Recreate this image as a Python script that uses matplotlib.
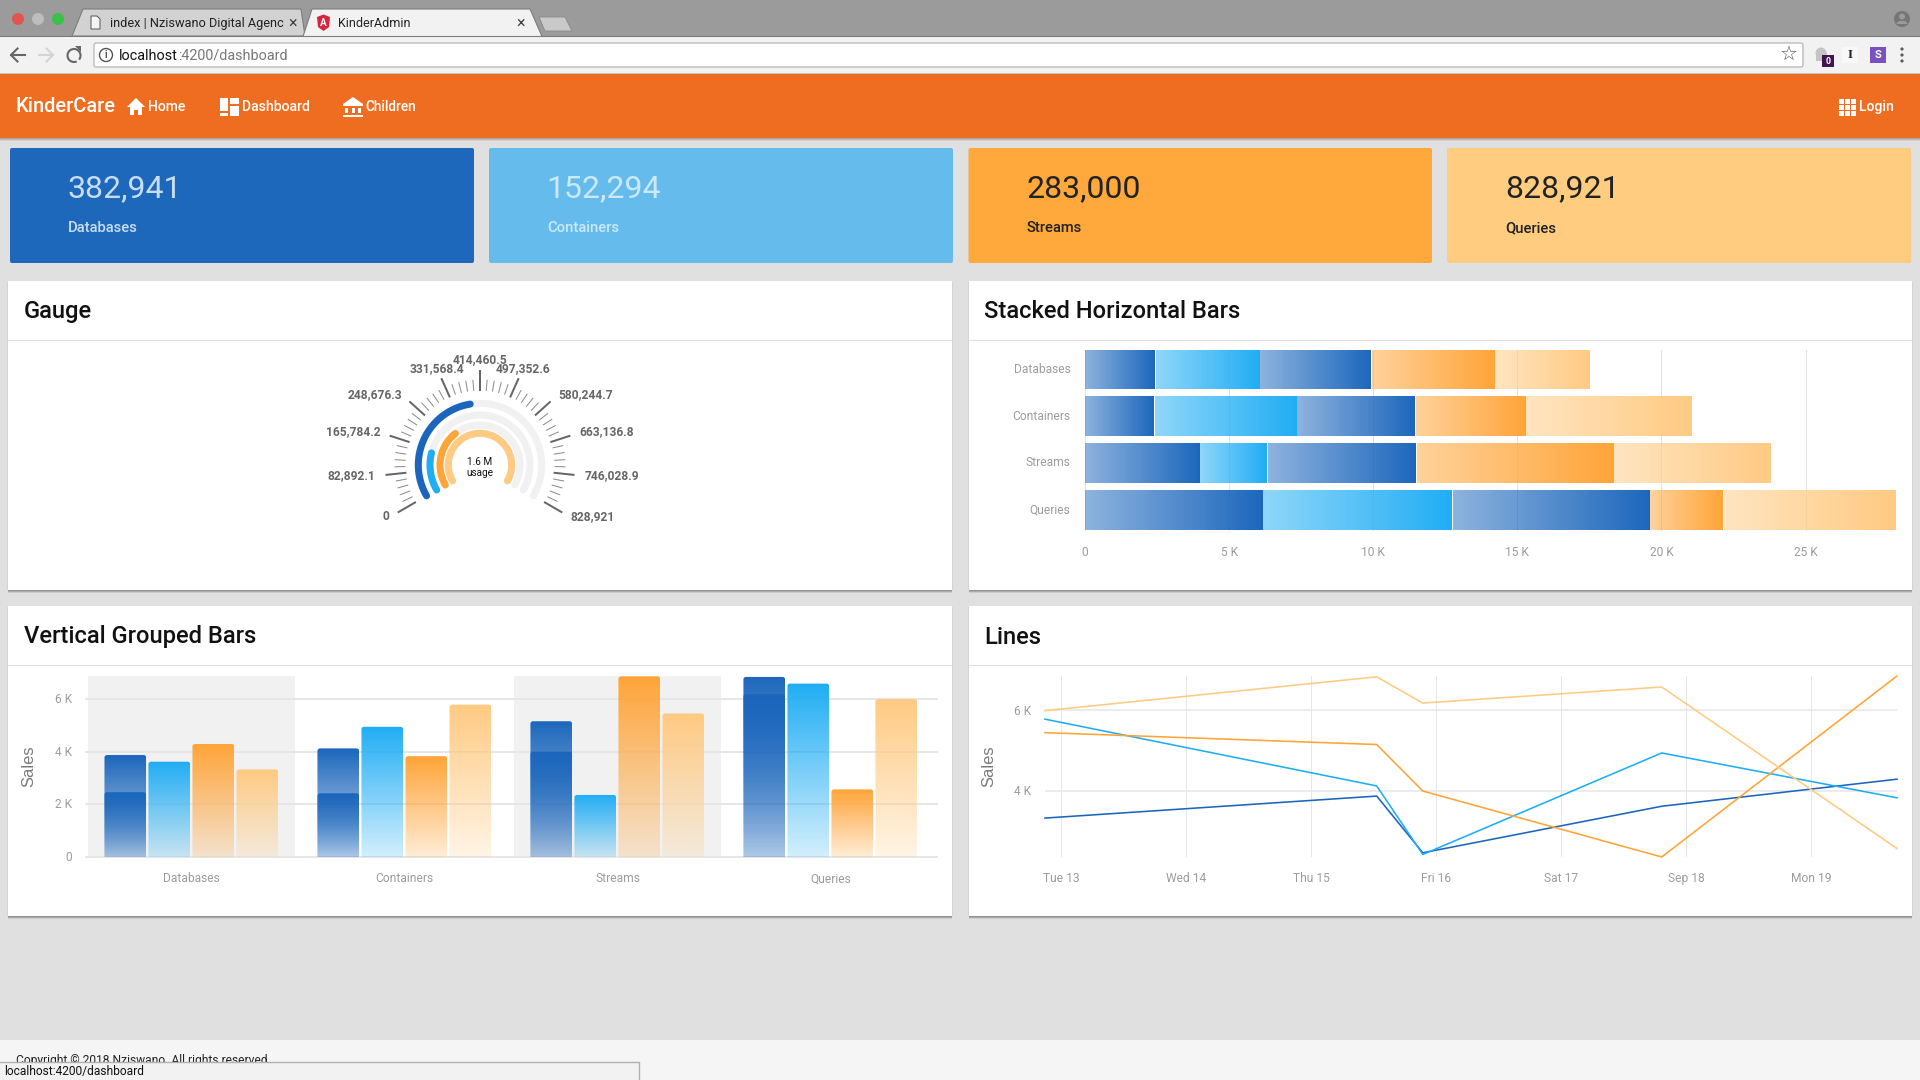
import numpy as np
import matplotlib
matplotlib.use('Agg')
import matplotlib.pyplot as plt
from matplotlib.colors import to_rgb
from matplotlib.patches import Rectangle, Polygon, Circle, FancyBboxPatch
from matplotlib.transforms import ScaledTranslation

plt.rcParams['font.family'] = ['Roboto', 'DejaVu Sans']

# Data
categories = ['Databases', 'Containers', 'Streams', 'Queries']
card_values = ['382,941', '152,294', '283,000', '828,921']
series_a = [2460, 2418, 3996, 6183]
series_b = [3617, 4942, 2355, 6582]
series_c = [3870, 4122, 5152, 6835]
series_d = [4290, 3827, 6856, 2566]
series_e = [3323, 5783, 5447, 5994]
gauge_values = [382941, 152294, 283000, 828921]
gauge_max = 828921
gauge_labels = ['0', '82,892.1', '165,784.2', '248,676.3', '331,568.4', '414,460.5',
                '497,352.6', '580,244.7', '663,136.8', '746,028.9', '828,921']
line_days = [-0.132, 2.524, 2.893, 4.806, 6.69]
day_ticks = [0, 1, 2, 3, 4, 5, 6]
day_labels = ['Tue 13', 'Wed 14', 'Thu 15', 'Fri 16', 'Sat 17', 'Sep 18', 'Mon 19']

BLUE = '#1b66bc'
SKY = '#1fadf4'
ORANGE = '#ffa437'
PEACH = '#ffca82'
TICK = '#9c9c9c'
PX = 0.72  # px to pt at dpi 100

fig = plt.figure(figsize=(19.2, 10.8), dpi=100, facecolor='#e0e0e0')
page = fig.add_axes([0, 0, 1, 1])
page.set_xlim(0, 1920)
page.set_ylim(1080, 0)
page.axis('off')


def rect(x0, y0, x1, y1, color, z=1, **kw):
    page.add_patch(Rectangle((x0, y0), x1 - x0, y1 - y0, facecolor=color, edgecolor='none', zorder=z, **kw))


def label(x, y, s, size, color='#000000', ha='left', weight='normal', z=5, **kw):
    return page.text(x, y, s, fontsize=size * PX, color=color, ha=ha, va='center', fontweight=weight, zorder=z, **kw)


def panel(x0, y0, x1, y1):
    ax = fig.add_axes([x0 / 1920, 1 - y1 / 1080, (x1 - x0) / 1920, (y1 - y0) / 1080])
    ax.patch.set_alpha(0)
    for s in ax.spines.values():
        s.set_visible(False)
    ax.set_autoscale_on(False)
    ax.tick_params(length=0, labelcolor=TICK, labelsize=12 * PX)
    return ax


def nudge_up(tick_labels, px):
    # tick labels sit a little high in the browser render
    for t in tick_labels:
        t.set_transform(t.get_transform() + ScaledTranslation(0, px / 100, fig.dpi_scale_trans))


def grad_bar(ax, x0, x1, y0, y1, color, vertical, low, clip=None):
    n = 128
    rgb = to_rgb(color)
    alpha = np.linspace(low, 1, n)
    if vertical:
        img = np.zeros((n, 1, 4))
        img[:, 0, :3] = rgb
        img[:, 0, 3] = alpha
    else:
        img = np.zeros((1, n, 4))
        img[0, :, :3] = rgb
        img[0, :, 3] = alpha
    im = ax.imshow(img, extent=(x0, x1, y0, y1), origin='lower', aspect='auto', interpolation='nearest', zorder=3)
    if clip is not None:
        ax.add_patch(clip)
        im.set_clip_path(clip)
    return im


# Browser chrome
rect(0, 0, 1920, 36, '#9b9b9b')
rect(0, 36, 1920, 73, '#f2f2f2')
rect(0, 35.5, 1920, 36.5, '#777777', z=2)
rect(0, 73, 1920, 74, '#c4c4c4')
for x, c in zip([18, 38, 58], ['#e2554f', '#bdbdbd', '#3ac14a']):
    page.add_patch(Circle((x, 19), 6, facecolor=c, edgecolor='none', zorder=3))
page.add_patch(Polygon([[72, 36], [83, 9], [301, 9], [305, 36]], facecolor='#d2d2d2', edgecolor='#7d7d7d', lw=0.8, zorder=3))
page.add_patch(Polygon([[303, 36.5], [312, 9], [530, 9], [542, 36.5]], facecolor='#f2f2f2', edgecolor='#7d7d7d', lw=0.8, zorder=4))
page.add_patch(Polygon([[539, 17], [565, 17], [572, 31], [545, 31]], facecolor='#c9c9c9', edgecolor='#8a8a8a', lw=0.6, zorder=3))
page.add_patch(Polygon([[91, 16], [97, 16], [100, 19], [100, 29], [91, 29]], facecolor='#f5f5f5', edgecolor='#555555', lw=0.7, zorder=5))
label(110, 23.5, 'index | Nziswano Digital Agenc', 12.7, '#222222')
label(293, 23, '×', 16, '#444444', ha='center')
page.add_patch(Polygon([[317, 17], [323.5, 14.5], [330, 17], [329, 27], [323.5, 31], [318, 27]], facecolor='#d9233a', edgecolor='none', zorder=5))
label(323.5, 23, 'A', 10, 'white', ha='center', weight='bold', z=6)
label(338, 23.5, 'KinderAdmin', 12.5, '#222222')
label(520.5, 23, '×', 16, '#444444', ha='center')
page.add_patch(FancyBboxPatch((94, 43), 1709, 24, boxstyle='round,pad=0,rounding_size=2', facecolor='white', edgecolor='#bcbcbc', lw=1, zorder=3))
# back, forward, reload
for x0, x1, c in [(25, 11, '#666666'), (39, 53, '#d4d4d4')]:
    d = 6.5 if x1 > x0 else -6.5
    page.plot([x0, x1], [55, 55], color=c, lw=1.5, zorder=5)
    page.plot([x1 - d, x1, x1 - d], [48.5, 55, 61.5], color=c, lw=1.5, zorder=5)
th = np.radians(np.linspace(-30, 285, 60))
page.plot(74 + 6.5 * np.cos(th), 55.5 - 6.5 * np.sin(th), color='#666666', lw=1.5, zorder=5)
page.add_patch(Polygon([[75, 46], [81, 46], [81, 52]], facecolor='#666666', edgecolor='none', zorder=5))
page.add_patch(Circle((106, 55), 6.5, facecolor='white', edgecolor='#555555', lw=1, zorder=5))
label(106, 55.5, 'i', 10, '#555555', ha='center', weight='bold', z=6)
label(119, 56, 'localhost', 14.4, '#111111')
label(178.5, 56, ':4200/dashboard', 14.4, '#777777')
label(1789, 54.5, '☆', 20, '#555555', ha='center', family=['DejaVu Sans'])
page.add_patch(Circle((1821, 53), 5.5, facecolor='#c4c4c4', edgecolor='none', zorder=5))
rect(1815.5, 53, 1826.5, 61, '#c4c4c4', z=5)
rect(1822, 55, 1834, 67, '#43124f', z=6)
label(1828, 61.5, '0', 9, 'white', ha='center', weight='bold', z=7)
rect(1842, 47, 1858, 63, '#f8f8f8', z=5)
label(1850, 55, 'I', 13, '#222222', ha='center', weight='bold', z=6, family=['Liberation Serif'])
rect(1870, 47, 1886, 63, '#7a52c0', z=5)
label(1878, 55, 'S', 11, 'white', ha='center', weight='bold', z=6)
for y in [49, 55, 61]:
    page.add_patch(Circle((1902, y), 1.6, facecolor='#5a5a5a', edgecolor='none', zorder=5))
page.add_patch(Circle((1902, 19), 8, facecolor='#767676', edgecolor='none', zorder=3))
page.add_patch(Circle((1902, 16.5), 3, facecolor='#9b9b9b', edgecolor='none', zorder=4))
page.add_patch(Polygon([[1896, 24], [1908, 24], [1905, 21], [1899, 21]], facecolor='#9b9b9b', edgecolor='none', zorder=4))

# Nav bar
rect(0, 74, 1920, 138, '#ef6d20')
for i, c in enumerate(['#a9a9a9', '#bcbcbc', '#d0d0d0']):
    rect(0, 138 + i, 1920, 139 + i, c, z=0.5)
label(15.5, 107, 'KinderCare', 20, 'white', weight='medium')
page.add_patch(Polygon([[127, 107], [136, 98], [145, 107], [142, 107], [142, 115], [138, 115], [138, 110],
                        [134, 110], [134, 115], [130, 115], [130, 107]], facecolor='white', edgecolor='none', zorder=5))
label(148, 107.2, 'Home', 14, 'white', weight='medium')
rect(220, 98, 228, 111, 'white', z=5)
rect(229.5, 98, 239, 104, 'white', z=5)
rect(229.5, 105.5, 239, 116, 'white', z=5)
rect(220, 112.5, 228, 116, 'white', z=5)
label(242, 107.2, 'Dashboard', 14, 'white', weight='medium')
page.add_patch(Polygon([[343, 104], [353, 97], [363, 104], [363, 106], [343, 106]], facecolor='white', edgecolor='none', zorder=5))
for x in [345, 351.5, 358]:
    rect(x, 108, x + 3, 113, 'white', z=5)
rect(343, 114.5, 363, 117, 'white', z=5)
label(365.5, 107.2, 'Children', 13.6, 'white', weight='medium')
for ix in range(3):
    for iy in range(3):
        rect(1839 + ix * 6, 99 + iy * 6, 1843.5 + ix * 6, 103.5 + iy * 6, 'white', z=5)
label(1859.5, 107.2, 'Login', 14, 'white', weight='medium')

# Stat cards
card_boxes = [(10, 474), (489, 953), (968.5, 1432), (1447, 1911)]
card_colors = ['#1d68bb', '#65bcec', '#ffa83c', '#ffcc80']
card_text = ['#c9ddf2', '#cbe9fb', '#222222', '#222222']
for (x0, x1), bg, fg, val, name in zip(card_boxes, card_colors, card_text, card_values, categories):
    page.add_patch(FancyBboxPatch((x0, 148), x1 - x0, 115, boxstyle='round,pad=0,rounding_size=2', facecolor=bg, edgecolor='none', zorder=2))
    label(x0 + 57.8, 188.5, val, 32, fg)
    label(x0 + 58, 228.5, name, 14.7, fg, weight='medium')

# White cards
for (x0, y0, x1, y1), title in zip([(8, 280.5, 951.5, 590), (968.5, 280.5, 1911.5, 590), (8, 606, 951.5, 916), (968.5, 606, 1911.5, 916)],
                                   ['Gauge', 'Stacked Horizontal Bars', 'Vertical Grouped Bars', 'Lines']):
    rect(x0 - 1, y0 + 1, x1 + 1, y1, '#d4d4d4', z=1)
    for i, c in enumerate(['#8f8f8f', '#aeaeae', '#cccccc']):
        rect(x0, y1 + i, x1, y1 + i + 1, c, z=1)
    rect(x0, y0, x1, y1, 'white', z=2)
    rect(x0, y0 + 59, x1, y0 + 60, '#dedede', z=3)
    label(x0 + 15.5, y0 + 31, title, 23.7, '#111111', weight='medium')

# Gauge
gauge = panel(280, 340, 680, 560)
gauge.set_xlim(-200, 200)
gauge.set_ylim(-95, 125)
START, SPAN = 210, 240
arc_radii = [61.7, 50, 40, 31.7]
arc_colors = [BLUE, SKY, ORANGE, PEACH]
for r, val, col in zip(arc_radii, gauge_values, arc_colors):
    for frac, c, z in [(1, '#f1f1f1', 2), (val / gauge_max, col, 3)]:
        th = np.radians(np.linspace(START, START - SPAN * frac, 200))
        gauge.plot(r * np.cos(th), r * np.sin(th), color=c, lw=7 * PX, solid_capstyle='round', zorder=z)
for i in range(51):
    th = np.radians(START - SPAN * i / 50)
    if i % 5 == 0:
        gauge.plot([75 * np.cos(th), 94 * np.cos(th)], [75 * np.sin(th), 94 * np.sin(th)], color='#666666', lw=2 * PX)
    else:
        gauge.plot([75 * np.cos(th), 85 * np.cos(th)], [75 * np.sin(th), 85 * np.sin(th)], color='#8a8a8a', lw=1 * PX)
for i, s in enumerate(gauge_labels):
    th = np.radians(START - SPAN * i / 10)
    ha = 'right' if i < 4 else ('center' if i <= 6 else 'left')
    gauge.text(105 * np.cos(th), 105 * np.sin(th) + 0.5, s, fontsize=12 * PX, color='#666666', fontweight='bold', ha=ha, va='center')
gauge.text(0, 3, '1.6 M', fontsize=10 * PX, color='#111111', ha='center', va='center')
gauge.text(0, -8.5, 'usage', fontsize=10 * PX, color='#111111', ha='center', va='center')
gauge.set_xticks([])
gauge.set_yticks([])

# Stacked horizontal bars
stack = panel(1085, 350, 1897, 530)
stack.set_xlim(0, 28170)
stack.set_ylim(3.415, -0.415)
for v in range(0, 30000, 5000):
    stack.axvline(v, color='#e2e2e2', lw=1 * PX, zorder=1, clip_on=False)
stack_series = [series_a, series_b, series_c, series_d, series_e]
stack_colors = [BLUE, SKY, BLUE, ORANGE, PEACH]
for i in range(len(categories)):
    left = 0
    for vals, col in zip(stack_series, stack_colors):
        grad_bar(stack, left, left + vals[i] - 35, i + 0.415, i - 0.415, col, False, 0.5)
        left += vals[i]
stack.set_yticks(range(4))
stack.set_yticklabels(categories)
stack.set_xticks(range(0, 30000, 5000))
stack.set_xticklabels(['0', '5 K', '10 K', '15 K', '20 K', '25 K'])
stack.tick_params(axis='y', pad=10.4)
stack.tick_params(axis='x', pad=11.8)
nudge_up(stack.get_yticklabels(), 2)

# Vertical grouped bars
vbar = panel(85.7, 676, 937, 857)
vbar.set_xlim(-0.498, 3.499)
vbar.set_ylim(0, 6870)
for i in [0, 2]:
    vbar.add_patch(Rectangle((i - 0.486, 0), 0.972, 6870, facecolor='#f1f1f1', edgecolor='none', zorder=0))
for v in [0, 2000, 4000, 6000]:
    vbar.axhline(v, color='#e6e6e6', lw=2 * PX, zorder=1, clip_on=False)
bar_w = 0.196
bar_step = 0.2066
aspect = (6870 / 181) / (1 / 213)
slots = [(0, series_c, BLUE), (0, series_a, BLUE), (1, series_b, SKY), (2, series_d, ORANGE), (3, series_e, PEACH)]
for slot, vals, col in slots:
    for i, v in enumerate(vals):
        x0 = i + (slot - 1.5) * bar_step - bar_w / 2 - 0.002
        clip = FancyBboxPatch((x0, -200), bar_w, v + 200, boxstyle='round,pad=0,rounding_size=0.012', mutation_aspect=aspect,
                              facecolor='none', edgecolor='none', transform=vbar.transData)
        grad_bar(vbar, x0, x0 + bar_w, 0, v, col, True, 0.2, clip=clip)
vbar.set_yticks([0, 2000, 4000, 6000])
vbar.set_yticklabels(['0', '2 K', '4 K', '6 K'])
vbar.set_xticks(range(4))
vbar.set_xticklabels(categories)
vbar.tick_params(axis='y', pad=10)
vbar.tick_params(axis='x', pad=11)
nudge_up(vbar.get_yticklabels(), 1)
label(28.5, 766, 'Sales', 16.5, '#7a7a7a', ha='center', rotation=90, family=['Liberation Sans'])

# Lines, one line per category through the same five series
line_series = [series_e, series_c, series_a, series_b, series_d]
line_colors = [BLUE, SKY, ORANGE, PEACH]
lines = panel(1045, 676, 1897, 857)
lines.set_xlim(-0.132, 6.69)
lines.set_ylim(2355, 6856)
for d in day_ticks:
    lines.axvline(d, color='#e6e6e6', lw=1 * PX, zorder=1)
for v in [4000, 6000]:
    lines.axhline(v, color='#e6e6e6', lw=1.5 * PX, zorder=1)
for i, col in enumerate(line_colors):
    ys = [s[i] for s in line_series]
    lines.plot(line_days, ys, color=col, lw=1.6 * PX, zorder=3, clip_on=False)
lines.set_yticks([4000, 6000])
lines.set_yticklabels(['4 K', '6 K'])
lines.set_xticks(day_ticks)
lines.set_xticklabels(day_labels)
lines.tick_params(axis='y', pad=10)
lines.tick_params(axis='x', pad=11)
nudge_up(lines.get_yticklabels(), 0.5)
label(988.5, 766, 'Sales', 16.5, '#7a7a7a', ha='center', rotation=90, family=['Liberation Sans'])

# Footer and status bubble
rect(0, 1040, 1920, 1080, '#f5f5f5')
label(16, 1060.5, 'Copyright © 2018 Nziswano. All rights reserved.', 12, '#222222', z=3)
rect(0, 1062, 639, 1080, '#f2f2f2', z=4)
page.plot([0, 639, 639], [1062, 1062, 1080], color='#b0b0b0', lw=1, zorder=5)
label(4, 1071, 'localhost:4200/dashboard', 12, '#111111', z=6)

fig.savefig('out.png', dpi=100, facecolor=fig.get_facecolor())
